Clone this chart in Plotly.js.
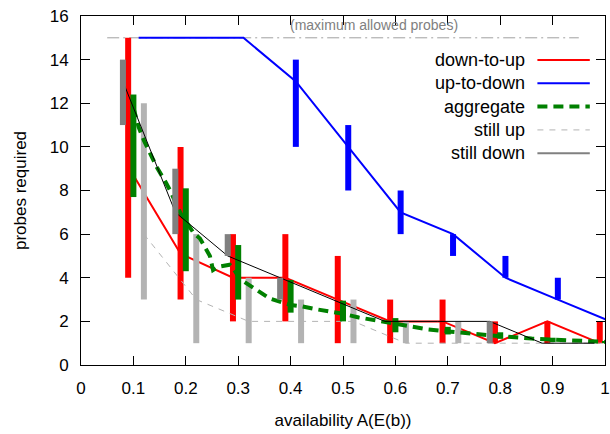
<!DOCTYPE html>
<html>
<head>
<meta charset="utf-8">
<script src="https://cdn.plot.ly/plotly-3.0.1.min.js"></script>
<style>html,body{margin:0;padding:0;background:#fff;}#chart{width:610px;height:434px;}</style>
</head>
<body>
<div id="chart"></div>
<script>
// ---- data ----
const downUpX   = [0.09, 0.19, 0.29, 0.39, 0.49, 0.59, 0.69, 0.79, 0.89, 0.99];
const downUpY   = [9.1, 5.1, 4, 4, 3, 2, 2, 1, 2, 1];
const downUpLo  = [4, 3, 2, 2, 1, 1, 1, 1, 1, 1];
const downUpHi  = [15, 10, 6, 6, 5, 3, 3, 2, 2, 2];

const upDownX   = [0.11, 0.21, 0.31, 0.41, 0.51, 0.61, 0.71, 0.81, 0.91, 1.01];
const upDownY   = [15, 15, 15, 13, 10, 7, 6, 4, 3, 2];
const upDownLo  = [15, 15, 15, 10, 8, 6, 5, 4, 3, 2];
const upDownHi  = [15, 15, 15, 14, 11, 8, 6, 5, 4, 3];

const aggLineX  = [0.10, 0.11, 0.12, 0.13, 0.145, 0.16, 0.17, 0.19, 0.215, 0.227, 0.237, 0.246, 0.252, 0.262, 0.284, 0.29, 0.303, 0.325, 0.36, 0.40, 0.42, 0.45, 0.50, 0.53, 0.56, 0.60, 0.63, 0.66, 0.70, 0.75, 0.80, 0.86, 0.91, 0.96, 1.00];
const aggLineY  = [11.8, 10.9, 10.3, 9.8, 9.05, 8.45, 8.0, 6.95, 6.05, 5.8, 5.35, 5.0, 4.35, 4.5, 4.6, 4.45, 3.95, 3.6, 3.05, 2.75, 2.7, 2.55, 2.35, 2.18, 2.06, 1.88, 1.75, 1.64, 1.54, 1.42, 1.32, 1.21, 1.14, 1.09, 1.06];
const aggBarX   = [0.1, 0.2, 0.3, 0.4, 0.5, 0.6, 0.7, 0.8, 0.9, 1.0];
const aggLo     = [7.7, 4.3, 3.0, 2.4, 2.0, 1.5, 1.4, 1.2, 1.05, 1.0];
const aggHi     = [12.4, 8.1, 5.5, 3.9, 2.95, 2.15, 1.75, 1.5, 1.25, 1.1];

const stillUpX  = [0.12, 0.22, 0.32, 0.42, 0.52, 0.62, 0.72, 0.82, 0.92, 1.02];
const stillUpY  = [6, 3, 2, 2, 2, 1, 1, 1, 1, 1];
const stillUpLo = [3, 1, 1, 1, 1, 1, 1, 1, 1, 1];
const stillUpHi = [12, 6, 4, 3, 3, 2, 2, 1, 1, 1];

const stillDownX  = [0.08, 0.18, 0.28, 0.38, 0.48, 0.58, 0.68, 0.78, 0.88, 0.98];
const stillDownY  = [13, 7, 5, 4, 3, 2, 2, 2, 1, 1];
const stillDownLo = [11, 6, 5, 3, 3, 2, 2, 1, 1, 1];
const stillDownHi = [14, 9, 6, 4, 3, 2, 2, 2, 1, 1];

const maxProbes  = 15;
const maxProbesX = [0.05, 0.95];
const maxLabel   = '(maximum allowed probes)';

const legendNames = ['down-to-up', 'up-to-down', 'aggregate', 'still up', 'still down'];
const xTitle = 'availability A(E(b))';
const yTitle = 'probes required';

// ---- helpers ----
function segments(xs, lo, hi) {
  const x = [], y = [];
  for (let i = 0; i < xs.length; i++) {
    x.push(xs[i], xs[i], null);
    y.push(lo[i], hi[i], null);
  }
  return {x, y};
}
function barTrace(xs, lo, hi, color) {
  const s = segments(xs, lo, hi);
  return {x: s.x, y: s.y, mode: 'lines', line: {color: color, width: 6}, hoverinfo: 'skip', showlegend: false, connectgaps: false};
}
function lineTrace(xs, ys, color, width, dash) {
  return {x: xs, y: ys, mode: 'lines', line: {color: color, width: width, dash: dash || 'solid'}, showlegend: false};
}

const RED = '#ff0000', BLUE = '#0000ff', GREEN = '#008000', LGRAY = '#b3b3b3', DGRAY = '#808080';

const traces = [
  lineTrace(maxProbesX, [maxProbes, maxProbes], '#a0a0a0', 1, '12px,4px,2px,4px'),
  barTrace(downUpX, downUpLo, downUpHi, RED),
  barTrace(upDownX, upDownLo, upDownHi, BLUE),
  lineTrace(downUpX, downUpY, RED, 2),
  lineTrace(upDownX, upDownY, BLUE, 2),
  barTrace(stillUpX, stillUpLo, stillUpHi, LGRAY),
  lineTrace(stillUpX, stillUpY, LGRAY, 1, '6px,6px'),
  barTrace(aggBarX, aggLo, aggHi, GREEN),
  lineTrace(aggLineX, aggLineY, GREEN, 4, '10px,6px'),
  lineTrace(stillDownX, stillDownY, '#000000', 1),
  barTrace(stillDownX, stillDownLo, stillDownHi, DGRAY)
];

// legend (gnuplot style: text right-aligned, sample to the right)
const legendStyles = [
  {color: RED, width: 2, dash: 'solid'},
  {color: BLUE, width: 2, dash: 'solid'},
  {color: GREEN, width: 4, dash: '10px,6px'},
  {color: LGRAY, width: 1, dash: '6px,6px'},
  {color: DGRAY, width: 2, dash: 'solid'}
];
const legendTop = 0.874, legendStep = 0.0668;
const annotations = [];
const shapes = [];
legendNames.forEach((name, i) => {
  const yy = legendTop - i * legendStep;
  annotations.push({xref: 'paper', yref: 'paper', x: 0.851, y: yy, xanchor: 'right', yanchor: 'middle',
    text: name, showarrow: false, font: {family: 'Liberation Sans, Arial, sans-serif', size: 18, color: '#000'}});
  shapes.push({type: 'line', xref: 'paper', yref: 'paper', x0: 0.871, x1: 0.971, y0: yy, y1: yy,
    line: legendStyles[i]});
});
annotations.push({xref: 'x', yref: 'y', x: 0.56, y: 15.6, xanchor: 'center', yanchor: 'middle', text: maxLabel,
  showarrow: false, font: {family: 'Liberation Sans, Arial, sans-serif', size: 14, color: '#808080'}});

const axisFont = {family: 'Liberation Sans, Arial, sans-serif', size: 17, color: '#000'};
const layout = {
  width: 610, height: 434,
  margin: {l: 81, r: 5, t: 16, b: 69, pad: 0},
  paper_bgcolor: '#fff', plot_bgcolor: '#fff',
  showlegend: false,
  font: axisFont,
  xaxis: {range: [0, 1], dtick: 0.1, tick0: 0, ticks: 'inside', ticklen: 9, tickcolor: '#000',
    showline: true, linecolor: '#000', linewidth: 1, mirror: 'allticks', showgrid: false, zeroline: false,
    tickfont: axisFont, ticklabelstandoff: 8,
    title: {text: xTitle, font: axisFont, standoff: 16}},
  yaxis: {range: [0, 16], dtick: 2, tick0: 0, ticks: 'inside', ticklen: 9, tickcolor: '#000',
    showline: true, linecolor: '#000', linewidth: 1, mirror: 'allticks', showgrid: false, zeroline: false,
    tickfont: axisFont, ticklabelstandoff: 8,
    title: {text: yTitle, font: axisFont, standoff: 18}},
  annotations: annotations,
  shapes: shapes
};

Plotly.newPlot('chart', traces, layout, {displayModeBar: false, staticPlot: true});
</script>
</body>
</html>
